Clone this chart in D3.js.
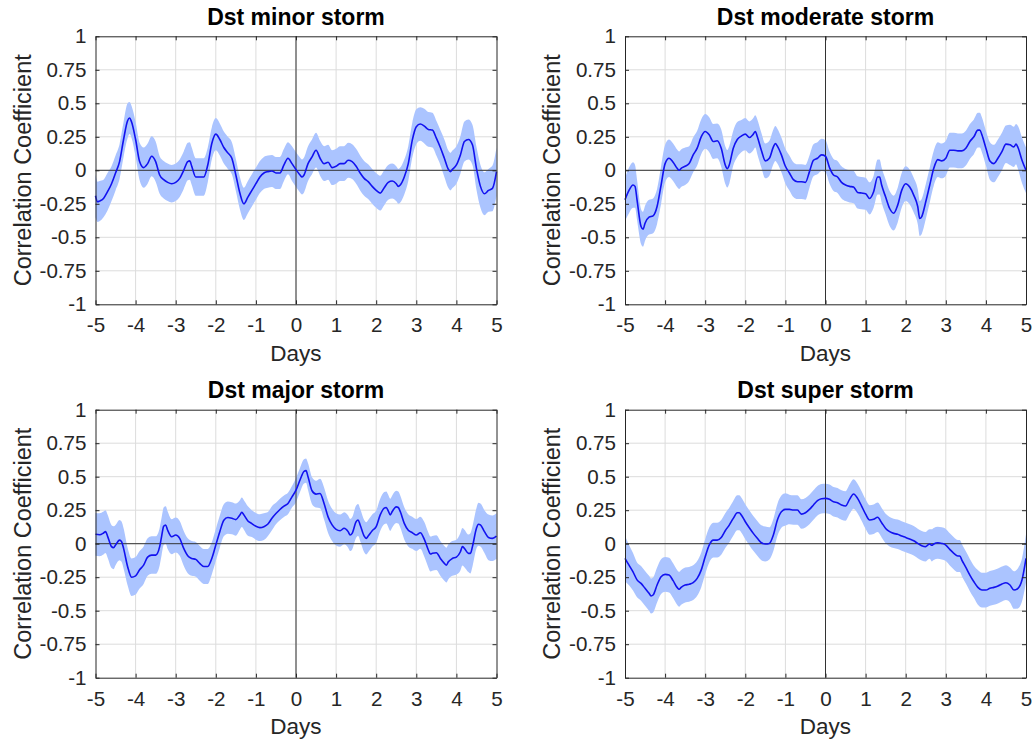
<!DOCTYPE html>
<html><head><meta charset="utf-8">
<script src="https://cdn.jsdelivr.net/npm/d3@7"></script>
<style>body{margin:0;background:#fff}svg{display:block}</style>
</head><body><svg id="c" width="1032" height="744"></svg>
<script>
// ---- data: [day, mean correlation, half-width of confidence band] ----
const xTicks = [-5,-4,-3,-2,-1,0,1,2,3,4,5];
const yTicks = [-1,-0.75,-0.5,-0.25,0,0.25,0.5,0.75,1];
const yTickLabels = ["-1","-0.75","-0.5","-0.25","0","0.25","0.5","0.75","1"];
const titles = ["Dst minor storm","Dst moderate storm","Dst major storm","Dst super storm"];
const xLabel = "Days";
const yLabel = "Correlation Coefficient";

const minor = [
[-5,-0.19,0.16],[-4.95,-0.235,0.15],[-4.9,-0.23,0.15],[-4.8,-0.21,0.14],[-4.7,-0.16,0.14],
[-4.6,-0.10,0.13],[-4.5,-0.02,0.13],[-4.4,0.065,0.13],[-4.3,0.23,0.13],[-4.2,0.37,0.13],
[-4.15,0.39,0.12],[-4.1,0.36,0.12],[-4.0,0.23,0.13],[-3.9,0.065,0.14],[-3.8,0.02,0.15],
[-3.7,0.05,0.15],[-3.6,0.105,0.15],[-3.5,0.065,0.15],[-3.4,-0.035,0.14],[-3.3,-0.07,0.14],
[-3.2,-0.09,0.14],[-3.1,-0.10,0.14],[-3.0,-0.09,0.14],[-2.9,-0.06,0.14],[-2.8,0.0,0.14],
[-2.7,0.065,0.14],[-2.65,0.07,0.14],[-2.6,0.03,0.14],[-2.5,-0.05,0.14],[-2.4,-0.05,0.14],
[-2.3,-0.05,0.14],[-2.2,0.04,0.13],[-2.1,0.20,0.12],[-2.0,0.27,0.12],[-1.9,0.23,0.12],
[-1.8,0.17,0.12],[-1.7,0.13,0.12],[-1.6,0.09,0.12],[-1.5,-0.035,0.12],[-1.4,-0.17,0.12],
[-1.3,-0.25,0.12],[-1.2,-0.20,0.12],[-1.1,-0.15,0.12],[-1.0,-0.10,0.12],[-0.9,-0.05,0.12],
[-0.8,-0.02,0.12],[-0.7,-0.01,0.12],[-0.6,-0.005,0.12],[-0.5,-0.02,0.12],[-0.4,-0.02,0.12],
[-0.3,0.04,0.12],[-0.2,0.09,0.12],[-0.1,0.05,0.13],[0.0,0.005,0.13],[0.1,-0.035,0.13],
[0.15,-0.05,0.13],[0.2,-0.035,0.13],[0.3,0.05,0.13],[0.4,0.10,0.13],[0.5,0.15,0.13],
[0.6,0.09,0.13],[0.7,0.05,0.13],[0.8,0.06,0.13],[0.9,0.02,0.13],[1.0,0.03,0.13],
[1.1,0.05,0.13],[1.2,0.05,0.13],[1.3,0.075,0.13],[1.4,0.065,0.13],[1.5,0.03,0.13],
[1.6,-0.02,0.13],[1.7,-0.06,0.13],[1.8,-0.085,0.13],[1.9,-0.12,0.13],[2.0,-0.15,0.13],
[2.1,-0.17,0.13],[2.2,-0.13,0.13],[2.3,-0.09,0.13],[2.4,-0.08,0.13],[2.5,-0.10,0.13],
[2.55,-0.12,0.13],[2.6,-0.11,0.13],[2.7,-0.05,0.13],[2.8,0.05,0.13],[2.9,0.225,0.13],
[3.0,0.325,0.13],[3.1,0.345,0.125],[3.2,0.33,0.13],[3.3,0.305,0.13],[3.4,0.30,0.13],
[3.5,0.24,0.13],[3.6,0.17,0.13],[3.7,0.09,0.14],[3.8,0.007,0.14],[3.85,-0.01,0.14],
[3.9,0.007,0.14],[4.0,0.04,0.14],[4.1,0.115,0.14],[4.2,0.215,0.15],[4.3,0.23,0.15],
[4.4,0.19,0.15],[4.5,0.015,0.16],[4.6,-0.12,0.16],[4.7,-0.175,0.16],[4.8,-0.15,0.16],
[4.9,-0.135,0.17],[5.0,-0.01,0.18]
];

const moderate = [
[-5,-0.22,0.16],[-4.9,-0.15,0.17],[-4.8,-0.11,0.17],[-4.75,-0.12,0.16],[-4.7,-0.22,0.15],
[-4.6,-0.42,0.13],[-4.55,-0.44,0.13],[-4.5,-0.395,0.13],[-4.4,-0.35,0.13],[-4.3,-0.34,0.13],
[-4.2,-0.27,0.13],[-4.1,-0.11,0.14],[-4.0,0.05,0.14],[-3.9,0.09,0.14],[-3.8,0.06,0.14],
[-3.7,0.015,0.14],[-3.65,0.0,0.14],[-3.6,0.015,0.14],[-3.5,0.03,0.14],[-3.4,0.05,0.13],
[-3.3,0.115,0.13],[-3.2,0.165,0.13],[-3.1,0.25,0.13],[-3.0,0.29,0.13],[-2.9,0.265,0.13],
[-2.8,0.215,0.13],[-2.7,0.22,0.13],[-2.6,0.165,0.14],[-2.5,0.04,0.14],[-2.45,0.012,0.14],
[-2.4,0.04,0.14],[-2.3,0.165,0.13],[-2.2,0.23,0.13],[-2.1,0.255,0.12],[-2.0,0.27,0.12],
[-1.9,0.245,0.12],[-1.8,0.27,0.12],[-1.75,0.29,0.12],[-1.7,0.25,0.13],[-1.6,0.15,0.13],
[-1.5,0.07,0.13],[-1.4,0.09,0.13],[-1.3,0.175,0.13],[-1.25,0.20,0.13],[-1.2,0.18,0.13],
[-1.1,0.115,0.13],[-1.0,0.03,0.13],[-0.9,-0.02,0.13],[-0.8,-0.07,0.13],[-0.7,-0.085,0.13],
[-0.6,-0.085,0.13],[-0.5,-0.09,0.13],[-0.4,-0.01,0.12],[-0.3,0.075,0.12],[-0.2,0.09,0.12],
[-0.1,0.115,0.12],[0.0,0.105,0.12],[0.1,0.02,0.12],[0.2,-0.035,0.12],[0.3,-0.05,0.12],
[0.4,-0.09,0.12],[0.5,-0.11,0.12],[0.6,-0.12,0.12],[0.7,-0.125,0.12],[0.8,-0.165,0.12],
[0.9,-0.17,0.12],[1.0,-0.175,0.12],[1.1,-0.21,0.12],[1.2,-0.16,0.12],[1.3,-0.05,0.13],
[1.35,-0.05,0.13],[1.4,-0.11,0.13],[1.5,-0.20,0.13],[1.6,-0.285,0.13],[1.7,-0.32,0.13],
[1.8,-0.26,0.13],[1.9,-0.15,0.13],[2.0,-0.10,0.13],[2.1,-0.125,0.13],[2.2,-0.185,0.13],
[2.3,-0.27,0.13],[2.35,-0.36,0.13],[2.4,-0.345,0.13],[2.5,-0.235,0.13],[2.6,-0.11,0.13],
[2.7,0.015,0.13],[2.8,0.08,0.13],[2.9,0.07,0.13],[3.0,0.09,0.13],[3.1,0.15,0.13],
[3.2,0.15,0.13],[3.3,0.145,0.13],[3.4,0.145,0.13],[3.5,0.165,0.13],[3.6,0.215,0.13],
[3.7,0.25,0.13],[3.8,0.30,0.13],[3.85,0.30,0.13],[3.9,0.265,0.13],[4.0,0.165,0.13],
[4.1,0.07,0.14],[4.2,0.05,0.14],[4.3,0.09,0.14],[4.4,0.14,0.14],[4.5,0.195,0.14],
[4.6,0.19,0.15],[4.7,0.175,0.15],[4.75,0.195,0.15],[4.8,0.17,0.16],[4.9,0.075,0.17],
[5.0,0.0,0.17]
];

const major = [
[-5,0.07,0.16],[-4.9,0.067,0.16],[-4.8,0.08,0.16],[-4.75,0.09,0.16],[-4.7,0.057,0.16],
[-4.6,-0.022,0.16],[-4.55,-0.03,0.16],[-4.5,-0.01,0.15],[-4.4,0.027,0.15],[-4.35,0.015,0.15],
[-4.3,-0.035,0.15],[-4.2,-0.17,0.14],[-4.1,-0.25,0.14],[-4.0,-0.24,0.14],[-3.9,-0.195,0.14],
[-3.8,-0.16,0.14],[-3.7,-0.10,0.14],[-3.6,-0.085,0.14],[-3.5,-0.085,0.14],[-3.4,-0.022,0.14],
[-3.35,0.057,0.14],[-3.3,0.13,0.14],[-3.25,0.14,0.14],[-3.2,0.10,0.14],[-3.1,0.052,0.13],
[-3.0,0.065,0.13],[-2.9,0.04,0.13],[-2.8,-0.035,0.13],[-2.7,-0.09,0.13],[-2.6,-0.11,0.13],
[-2.5,-0.117,0.13],[-2.4,-0.147,0.13],[-2.3,-0.17,0.13],[-2.2,-0.17,0.13],[-2.1,-0.11,0.12],
[-2.0,-0.01,0.12],[-1.9,0.09,0.12],[-1.8,0.175,0.12],[-1.7,0.195,0.12],[-1.6,0.19,0.12],
[-1.5,0.18,0.12],[-1.4,0.215,0.11],[-1.35,0.235,0.11],[-1.3,0.215,0.11],[-1.2,0.17,0.11],
[-1.1,0.15,0.10],[-1.0,0.13,0.10],[-0.9,0.12,0.10],[-0.8,0.127,0.10],[-0.7,0.147,0.09],
[-0.6,0.19,0.09],[-0.5,0.225,0.08],[-0.4,0.255,0.08],[-0.3,0.28,0.08],[-0.2,0.30,0.08],
[-0.1,0.35,0.08],[0.0,0.40,0.09],[0.1,0.475,0.09],[0.2,0.54,0.09],[0.25,0.545,0.09],
[0.3,0.50,0.10],[0.4,0.395,0.10],[0.5,0.37,0.10],[0.6,0.375,0.11],[0.7,0.30,0.12],
[0.8,0.20,0.12],[0.9,0.14,0.12],[1.0,0.107,0.12],[1.1,0.097,0.12],[1.2,0.115,0.12],
[1.3,0.09,0.12],[1.35,0.065,0.12],[1.4,0.077,0.12],[1.5,0.165,0.12],[1.55,0.177,0.12],
[1.6,0.14,0.12],[1.7,0.057,0.12],[1.75,0.04,0.12],[1.8,0.057,0.12],[1.9,0.097,0.12],
[2.0,0.127,0.12],[2.1,0.215,0.12],[2.2,0.265,0.12],[2.25,0.27,0.12],[2.3,0.245,0.12],
[2.35,0.215,0.12],[2.4,0.24,0.12],[2.5,0.275,0.12],[2.55,0.27,0.12],[2.6,0.24,0.12],
[2.7,0.152,0.12],[2.8,0.10,0.12],[2.9,0.082,0.12],[3.0,0.065,0.12],[3.1,0.082,0.12],
[3.2,0.032,0.13],[3.3,-0.047,0.13],[3.35,-0.077,0.13],[3.4,-0.072,0.13],[3.5,-0.067,0.13],
[3.6,-0.11,0.13],[3.7,-0.147,0.13],[3.75,-0.16,0.13],[3.8,-0.135,0.13],[3.9,-0.11,0.13],
[4.0,-0.10,0.13],[4.1,-0.06,0.14],[4.15,-0.022,0.14],[4.2,-0.035,0.14],[4.3,-0.072,0.14],
[4.35,-0.072,0.15],[4.4,-0.022,0.15],[4.5,0.115,0.15],[4.55,0.145,0.16],[4.6,0.14,0.16],
[4.7,0.09,0.16],[4.8,0.047,0.17],[4.9,0.04,0.17],[5.0,0.057,0.17]
];

const superStorm = [
[-5,-0.11,0.17],[-4.9,-0.16,0.15],[-4.8,-0.21,0.14],[-4.7,-0.27,0.13],[-4.6,-0.296,0.13],
[-4.5,-0.333,0.13],[-4.4,-0.37,0.13],[-4.35,-0.39,0.13],[-4.3,-0.383,0.13],[-4.2,-0.308,0.13],
[-4.1,-0.246,0.13],[-4.0,-0.229,0.13],[-3.9,-0.234,0.13],[-3.8,-0.276,0.13],[-3.7,-0.326,0.13],
[-3.65,-0.34,0.13],[-3.6,-0.326,0.13],[-3.5,-0.308,0.13],[-3.4,-0.303,0.13],[-3.3,-0.291,0.13],
[-3.2,-0.259,0.13],[-3.1,-0.197,0.13],[-3.0,-0.097,0.13],[-2.9,-0.01,0.13],[-2.8,0.027,0.13],
[-2.7,0.027,0.13],[-2.6,0.047,0.13],[-2.5,0.097,0.13],[-2.4,0.139,0.13],[-2.3,0.189,0.13],
[-2.2,0.231,0.13],[-2.15,0.231,0.13],[-2.1,0.214,0.13],[-2.0,0.164,0.13],[-1.9,0.119,0.13],
[-1.8,0.077,0.13],[-1.7,0.04,0.13],[-1.6,0.007,0.13],[-1.5,-0.002,0.13],[-1.4,0.002,0.12],
[-1.3,0.065,0.12],[-1.2,0.177,0.12],[-1.1,0.239,0.12],[-1.0,0.256,0.12],[-0.9,0.256,0.11],
[-0.8,0.251,0.11],[-0.7,0.251,0.11],[-0.6,0.221,0.11],[-0.5,0.231,0.11],[-0.4,0.256,0.11],
[-0.3,0.289,0.11],[-0.2,0.321,0.11],[-0.1,0.336,0.11],[0.0,0.338,0.11],[0.1,0.331,0.11],
[0.2,0.313,0.11],[0.3,0.306,0.11],[0.4,0.289,0.11],[0.5,0.281,0.11],[0.6,0.331,0.11],
[0.7,0.371,0.11],[0.8,0.338,0.11],[0.9,0.281,0.11],[1.0,0.221,0.11],[1.1,0.177,0.11],
[1.2,0.182,0.11],[1.3,0.197,0.11],[1.4,0.157,0.11],[1.5,0.114,0.11],[1.6,0.09,0.11],
[1.7,0.077,0.11],[1.8,0.07,0.11],[1.9,0.057,0.11],[2.0,0.047,0.11],[2.1,0.035,0.11],
[2.2,0.022,0.11],[2.3,0.002,0.11],[2.4,-0.015,0.11],[2.5,-0.022,0.11],[2.55,-0.01,0.11],
[2.6,-0.002,0.11],[2.65,-0.012,0.12],[2.7,-0.002,0.12],[2.8,0.007,0.12],[2.9,0.002,0.12],
[3.0,-0.01,0.12],[3.1,-0.042,0.12],[3.2,-0.072,0.12],[3.3,-0.092,0.12],[3.35,-0.092,0.12],
[3.4,-0.122,0.12],[3.5,-0.177,0.12],[3.6,-0.234,0.12],[3.7,-0.284,0.12],[3.8,-0.326,0.13],
[3.9,-0.346,0.13],[4.0,-0.346,0.13],[4.1,-0.333,0.13],[4.2,-0.326,0.13],[4.3,-0.316,0.13],
[4.4,-0.301,0.13],[4.5,-0.291,0.13],[4.6,-0.308,0.13],[4.7,-0.346,0.14],[4.8,-0.333,0.15],
[4.9,-0.271,0.16],[5.0,-0.11,0.18]
];

const seriesList = [minor, moderate, major, superStorm];

// ---- layout ----
const frames = [
  {left: 95.5, top: 36.3}, {left: 625, top: 36.3},
  {left: 95.5, top: 409.7}, {left: 625, top: 409.7}
];
const W = 401, H = 268;
const FONT = "'Liberation Sans', Arial, Helvetica, sans-serif";
const TXT = "#262626";

const svg = d3.select("#c");
svg.append("rect").attr("width",1032).attr("height",744).attr("fill","#fff");

frames.forEach((f, i) => {
  const data = seriesList[i];
  const x = d3.scaleLinear().domain([-5,5]).range([0,W]);
  const y = d3.scaleLinear().domain([-1,1]).range([H,0]);
  const g = svg.append("g").attr("transform",`translate(${f.left},${f.top})`);

  // grid
  g.append("g").selectAll("line").data(xTicks.slice(1,-1)).join("line")
    .attr("x1",d=>x(d)).attr("x2",d=>x(d)).attr("y1",0).attr("y2",H)
    .attr("stroke","#dcdcdc").attr("stroke-width",1);
  g.append("g").selectAll("line").data(yTicks.slice(1,-1)).join("line")
    .attr("y1",d=>y(d)).attr("y2",d=>y(d)).attr("x1",0).attr("x2",W)
    .attr("stroke","#dcdcdc").attr("stroke-width",1);

  // band
  const area = d3.area().x(d=>x(d[0])).y0(d=>y(d[1]-d[2])).y1(d=>y(d[1]+d[2]))
    .curve(d3.curveMonotoneX);
  g.append("path").datum(data).attr("d",area).attr("fill","#abc4ff");

  // zero lines
  g.append("line").attr("x1",0).attr("x2",W).attr("y1",y(0)).attr("y2",y(0))
    .attr("stroke","#333").attr("stroke-width",1);
  g.append("line").attr("x1",x(0)).attr("x2",x(0)).attr("y1",0).attr("y2",H)
    .attr("stroke","#333").attr("stroke-width",1);

  // mean line
  const line = d3.line().x(d=>x(d[0])).y(d=>y(d[1])).curve(d3.curveMonotoneX);
  g.append("path").datum(data).attr("d",line).attr("fill","none")
    .attr("stroke","#1212f0").attr("stroke-width",1.6);

  // axes
  const styleAxis = sel => {
    sel.selectAll("path.domain").attr("stroke",TXT).attr("stroke-width",1);
    sel.selectAll(".tick line").attr("stroke",TXT);
    sel.selectAll("text").attr("fill",TXT).attr("font-family",FONT).attr("font-size","20.6px");
  };
  g.append("g").attr("transform",`translate(0,${H})`)
    .call(d3.axisBottom(x).tickValues(xTicks).tickSizeInner(-4).tickSizeOuter(0).tickPadding(13.5)
      .tickFormat(d=>String(d)))
    .call(styleAxis);
  g.append("g")
    .call(d3.axisTop(x).tickValues(xTicks).tickSizeInner(-4).tickSizeOuter(0).tickFormat(""))
    .call(styleAxis);
  g.append("g")
    .call(d3.axisLeft(y).tickValues(yTicks).tickSizeInner(-4).tickSizeOuter(0).tickPadding(9)
      .tickFormat((d,k)=>yTickLabels[k]))
    .call(styleAxis);
  g.append("g").attr("transform",`translate(${W},0)`)
    .call(d3.axisRight(y).tickValues(yTicks).tickSizeInner(-4).tickSizeOuter(0).tickFormat(""))
    .call(styleAxis);

  // title & labels
  g.append("text").attr("x",W/2).attr("y",-11.5).attr("text-anchor","middle")
    .attr("font-family",FONT).attr("font-weight","bold").attr("font-size","23px")
    .attr("fill","#000").text(titles[i]);
  g.append("text").attr("x",W/2).attr("y",H+56.5).attr("text-anchor","middle")
    .attr("font-family",FONT).attr("font-size","22.5px").attr("fill",TXT).text(xLabel);
  g.append("text").attr("transform","rotate(-90)").attr("x",-H/2).attr("y",-65)
    .attr("text-anchor","middle").attr("font-family",FONT).attr("font-size","23.5px")
    .attr("fill",TXT).text(yLabel);
});
</script>
</body></html>
